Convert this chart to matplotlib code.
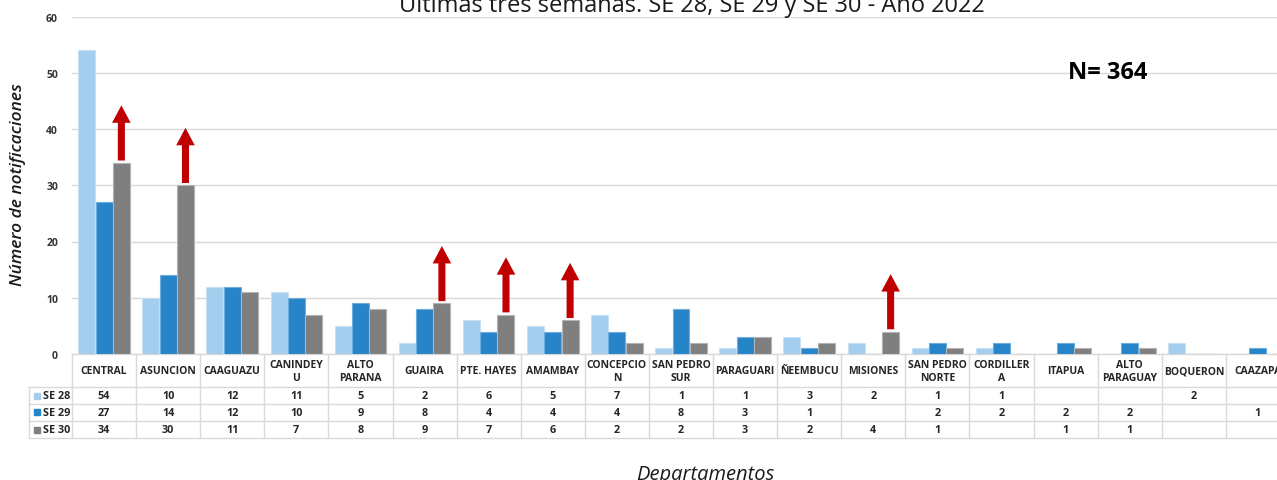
import numpy as np
import matplotlib
matplotlib.use('Agg')
import matplotlib.pyplot as plt
from matplotlib.patches import FancyArrow
import matplotlib.transforms as mtransforms

plt.rcParams['font.family'] = ['Open Sans', 'DejaVu Sans']

W, H, DPI = 1277, 481, 100

departamentos = ['CENTRAL', 'ASUNCION', 'CAAGUAZU', 'CANINDEYU', 'ALTO PARANA',
                 'GUAIRA', 'PTE. HAYES', 'AMAMBAY', 'CONCEPCION', 'SAN PEDRO SUR',
                 'PARAGUARI', 'ÑEEMBUCU', 'MISIONES', 'SAN PEDRO NORTE',
                 'CORDILLERA', 'ITAPUA', 'ALTO PARAGUAY', 'BOQUERON', 'CAAZAPA']
# how the names wrap inside the table header cells
header_labels = ['CENTRAL', 'ASUNCION', 'CAAGUAZU', 'CANINDEY\nU', 'ALTO\nPARANA',
                 'GUAIRA', 'PTE. HAYES', 'AMAMBAY', 'CONCEPCIO\nN', 'SAN PEDRO\nSUR',
                 'PARAGUARI', 'ÑEEMBUCU', 'MISIONES', 'SAN PEDRO\nNORTE',
                 'CORDILLER\nA', 'ITAPUA', 'ALTO\nPARAGUAY', 'BOQUERON', 'CAAZAPA']

nan = np.nan
se28 = [54, 10, 12, 11, 5, 2, 6, 5, 7, 1, 1, 3, 2, 1, 1, nan, nan, 2, nan]
se29 = [27, 14, 12, 10, 9, 8, 4, 4, 4, 8, 3, 1, nan, 2, 2, 2, 2, nan, 1]
se30 = [34, 30, 11, 7, 8, 9, 7, 6, 2, 2, 3, 2, 4, 1, nan, 1, 1, nan, nan]
series_names = ['SE 28', 'SE 29', 'SE 30']
series_colors = ['#A4CDEE', '#2684C8', '#7F7F7F']
edge_colors = ['#C8E1F5', '#6FAEDC', '#B4B4B4']

# departments whose SE 30 count went up
subida = ['CENTRAL', 'ASUNCION', 'GUAIRA', 'PTE. HAYES', 'AMAMBAY', 'MISIONES']

yticks = [0, 10, 20, 30, 40, 50, 60]
total = int(np.nansum(se28) + np.nansum(se29) + np.nansum(se30))

fig = plt.figure(figsize=(W / DPI, H / DPI), dpi=DPI)
ax = fig.add_axes([72 / W, 126 / H, 1218 / W, 337.5 / H])

x = np.arange(len(departamentos))
bw = 0.265
offsets = [-0.27, 0.0, 0.27]
series = [se28, se29, se30]
for vals, off, c, ec in zip(series, offsets, series_colors, edge_colors):
    ax.bar(x + off, np.nan_to_num(vals), width=bw, color=c, edgecolor=ec,
           linewidth=0.8, zorder=3)

ax.set_xlim(-0.5, len(departamentos) - 0.5)
ax.set_ylim(0, 60)
ax.set_yticks(yticks)
ax.set_yticklabels([str(t) for t in yticks], fontsize=7.5, fontweight='bold',
                   color='#333333')
ax.tick_params(axis='y', length=0, pad=10)
ax.set_xticks([])
ax.grid(axis='y', color='#D9D9D9', linewidth=1, zorder=0)
for s in ax.spines.values():
    s.set_visible(False)

# red arrows above the SE 30 bars that increased
for name in subida:
    i = departamentos.index(name)
    v = se30[i]
    ax.add_patch(FancyArrow(i + offsets[2], v + 0.4, 0, 9.8, width=0.11,
                            head_width=0.29, head_length=3.1,
                            length_includes_head=True, color='#C00000',
                            linewidth=0, zorder=4))

# data table under the plot: x in data units, y in axes fraction
tr = mtransforms.blended_transform_factory(ax.transData, ax.transAxes)
grid_kw = dict(color='#D9D9D9', linewidth=1, transform=tr, clip_on=False)
row_lines = [-0.0978, -0.148, -0.1985, -0.249]
row_centers = [-0.123, -0.173, -0.224]
x_left = -0.5 - 43 / 64.1
x_right = len(departamentos) - 0.5
ax.plot([-0.5, x_right], [0, 0], **grid_kw)
for yl in row_lines:
    ax.plot([x_left, x_right], [yl, yl], **grid_kw)
for k in range(len(departamentos) + 1):
    ax.plot([k - 0.5, k - 0.5], [0, row_lines[-1]], **grid_kw)
ax.plot([x_left, x_left], [row_lines[0], row_lines[-1]], **grid_kw)

for i, lab in enumerate(header_labels):
    ax.text(i, -0.05, lab, transform=tr, ha='center', va='center',
            fontsize=7.5, fontweight='bold', color='#262626',
            linespacing=1.2, clip_on=False)

for r, (vals, name, c) in enumerate(zip(series, series_names, series_colors)):
    yc = row_centers[r]
    ax.plot([-1.046], [yc], marker='s', markersize=5, color=c,
            transform=tr, clip_on=False)
    ax.text(-0.952, yc, name, transform=tr, ha='left', va='center',
            fontsize=7.8, fontweight='bold', color='#262626', clip_on=False)
    for i, v in enumerate(vals):
        if not np.isnan(v):
            ax.text(i, yc, f'{int(v)}', transform=tr, ha='center', va='center',
                    fontsize=7.8, fontweight='bold', color='#262626',
                    clip_on=False)

fig.text(692 / W, 1 - 12 / H, 'Últimas tres semanas. SE 28, SE 29 y SE 30 - Año 2022',
         ha='center', va='baseline', fontsize=17, color='#1a1a1a')
fig.text(1068 / W, 1 - 73 / H, f'N= {total}', ha='left', va='center',
         fontsize=17, fontweight='bold', color='black')
fig.text(18 / W, 1 - 185 / H, 'Número de notificaciones', rotation=90,
         ha='center', va='center', fontsize=12.5, fontstyle='italic',
         fontweight='semibold', color='#1a1a1a')
fig.text(705 / W, 1 / H, 'Departamentos', ha='center', va='baseline',
         fontsize=14.5, fontstyle='italic', color='#1a1a1a')

fig.savefig('out.png', dpi=DPI)
